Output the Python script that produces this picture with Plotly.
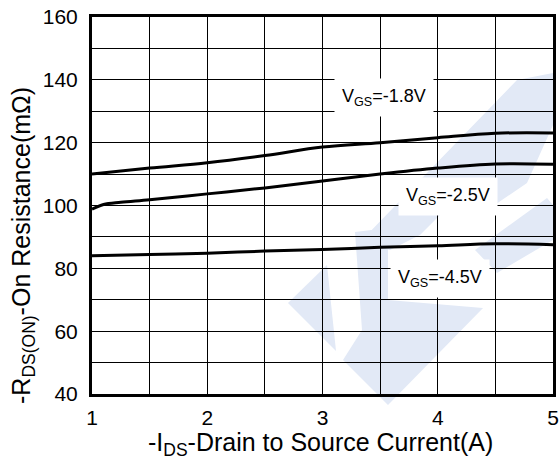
import plotly.graph_objects as go

# Data
current_a = [1.0, 1.5, 2.0, 2.5, 3.0, 3.5, 4.0, 4.5, 5.0]
r_vgs_18 = [110.0, 111.9, 113.6, 115.9, 118.6, 120.0, 121.6, 123.0, 123.1]
current_a_25 = [1.0, 1.1, 1.25, 1.5, 2.0, 2.5, 3.0, 3.5, 4.0, 4.5, 5.0]
r_vgs_25 = [98.8, 100.3, 101.0, 101.8, 103.7, 105.6, 107.8, 110.0, 111.9, 113.2, 113.1]
r_vgs_45 = [84.0, 84.4, 84.8, 85.5, 86.0, 86.7, 87.2, 87.8, 87.5]

series_labels = ["V<sub>GS</sub>=-1.8V", "V<sub>GS</sub>=-2.5V", "V<sub>GS</sub>=-4.5V"]
label_x = [3.53, 4.09, 4.02]
label_y = [134.4, 103.0, 76.7]

x_ticks = [1, 2, 3, 4, 5]
y_ticks = [40, 60, 80, 100, 120, 140, 160]

x_title = "-I<sub>DS</sub>-Drain to Source Current(A)"
y_title = "-R<sub>DS(ON)</sub>-On Resistance(mΩ)"

W, H = 559, 470
L, R, T, B = 92, 6, 17, 76
pw, ph = W - L - R, H - T - B

# watermark polygons in pixel coordinates (decoration)
wm_polys = [
    [(288, 303), (327, 265), (336, 351)],
    [(355, 232), (388, 228), (388, 300), (483, 308), (388, 405), (343, 360), (362, 330)],
    [(362, 240), (517, 80), (553, 73), (553, 125), (527, 183), (483, 213), (460, 195), (420, 235), (390, 250)],
    [(475, 250), (547, 198), (553, 205), (553, 240), (497, 273)],
]

def px_to_paper(px, py):
    return (px - L) / pw, (H - B - py) / ph

def to_path(poly):
    pts = [px_to_paper(px, py) for px, py in poly]
    return "M " + " L ".join(f"{x:.4f},{y:.4f}" for x, y in pts) + " Z"

shapes = [
    dict(type="path", xref="paper", yref="paper", path=to_path(p),
         fillcolor="rgb(226,233,246)", line=dict(width=0), layer="below")
    for p in wm_polys
]

FONT = "Liberation Sans, Arial, sans-serif"

fig = go.Figure()
line_style = dict(color="black", width=3, shape="spline", smoothing=1.0)
fig.add_trace(go.Scatter(x=current_a, y=r_vgs_18, mode="lines", line=line_style))
fig.add_trace(go.Scatter(x=current_a_25, y=r_vgs_25, mode="lines", line=line_style))
fig.add_trace(go.Scatter(x=current_a, y=r_vgs_45, mode="lines", line=line_style))

annotations = [
    dict(x=lx, y=ly, xref="x", yref="y", text=t, showarrow=False,
         font=dict(family=FONT, size=18, color="black"),
         bgcolor="white", borderpad=7)
    for t, lx, ly in zip(series_labels, label_x, label_y)
]
xt_x, xt_y = px_to_paper(320, 444)
yt_x, yt_y = px_to_paper(23, 246)
annotations.append(dict(x=xt_x, y=xt_y, xref="paper", yref="paper", text=x_title,
                        showarrow=False, xanchor="center", yanchor="middle",
                        font=dict(family=FONT, size=25, color="black")))
annotations.append(dict(x=yt_x, y=yt_y, xref="paper", yref="paper", text=y_title,
                        showarrow=False, xanchor="center", yanchor="middle", textangle=-90,
                        font=dict(family=FONT, size=25, color="black")))

fig.update_layout(
    width=W, height=H,
    margin=dict(l=L, r=R, t=T, b=B),
    paper_bgcolor="white", plot_bgcolor="white",
    showlegend=False,
    shapes=shapes,
    annotations=annotations,
    font=dict(family=FONT, size=21, color="black"),
)
fig.update_xaxes(
    range=[1, 5], tickvals=x_ticks, ticktext=[str(v) for v in x_ticks],
    showgrid=True, gridcolor="black", gridwidth=1,
    minor=dict(dtick=0.5, showgrid=True, gridcolor="black", gridwidth=1),
    showline=True, linecolor="black", linewidth=3, mirror=True,
    ticks="", zeroline=False, tickfont=dict(size=21),
    ticklabeloverflow="allow", ticklabelstandoff=3, automargin=False,
)
fig.update_yaxes(
    range=[40, 160], tickvals=y_ticks, ticktext=[str(v) for v in y_ticks],
    showgrid=True, gridcolor="black", gridwidth=1,
    minor=dict(dtick=10, showgrid=True, gridcolor="black", gridwidth=1),
    showline=True, linecolor="black", linewidth=3, mirror=True,
    ticks="", zeroline=False, tickfont=dict(size=21),
    ticklabeloverflow="allow", ticklabelstandoff=7, automargin=False,
)

fig.write_html(
    "out.html",
    config={"displayModeBar": False},
    post_script="document.body.style.margin='0px';document.body.style.overflow='hidden';",
)
